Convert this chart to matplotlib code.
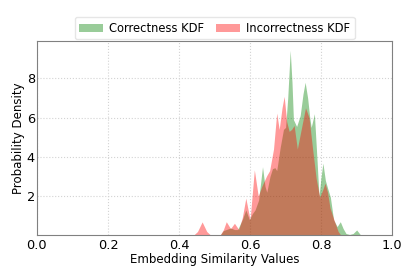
# KDF of embedding similarity for correct vs incorrect answers
import matplotlib
matplotlib.use('Agg')
import matplotlib.pyplot as plt

# density curves (x = similarity, y = density)
correct_x = [0.515, 0.525, 0.533, 0.545, 0.556, 0.565, 0.578, 0.588, 0.598, 0.606,
             0.614, 0.624, 0.635, 0.642, 0.647, 0.656, 0.663, 0.670, 0.675, 0.685,
             0.694, 0.700, 0.706, 0.713, 0.718, 0.722, 0.731, 0.741, 0.749, 0.755,
             0.762, 0.768, 0.772, 0.781, 0.788, 0.794, 0.800, 0.805, 0.812, 0.820,
             0.826, 0.835, 0.845, 0.854, 0.862, 0.870, 0.880, 0.890, 0.900, 0.910,
             0.920]
correct_y = [0.0, 0.25, 0.3, 0.38, 0.3, 0.3, 0.8, 1.3, 0.8, 1.1,
             1.3, 1.8, 3.5, 2.5, 2.2, 3.0, 3.4, 3.45, 3.3, 4.5,
             5.4, 5.5, 7.0, 9.43, 7.8, 5.9, 5.55, 6.1, 7.2, 7.8,
             7.0, 6.0, 5.5, 6.2, 4.0, 2.0, 3.0, 3.68, 2.8, 2.3,
             1.95, 0.8, 0.45, 0.7, 0.35, 0.1, 0.05, 0.1, 0.28, 0.05,
             0.0]

incorrect_x = [0.440, 0.452, 0.465, 0.478, 0.490, 0.515, 0.525, 0.533, 0.545, 0.556,
               0.568, 0.578, 0.588, 0.600, 0.612, 0.623, 0.633, 0.647, 0.655, 0.666,
               0.675, 0.682, 0.690, 0.696, 0.703, 0.710, 0.717, 0.724, 0.733, 0.745,
               0.756, 0.766, 0.776, 0.786, 0.796, 0.804, 0.811, 0.818, 0.825, 0.838,
               0.848, 0.856]
incorrect_y = [0.0, 0.2, 0.69, 0.2, 0.0, 0.0, 0.3, 0.7, 0.35, 0.62,
               0.3, 0.9, 1.9, 0.8, 3.34, 2.0, 2.5, 3.05, 3.3, 4.4,
               6.23, 5.4, 6.5, 7.08, 5.8, 5.3, 5.4, 5.6, 4.4, 5.5,
               6.5, 6.0, 4.4, 2.9, 1.95, 2.3, 2.66, 2.2, 1.4, 0.7,
               0.2, 0.0]

fig = plt.figure(figsize=(4.15, 2.77), dpi=100)
ax = fig.add_axes([0.089, 0.150, 0.856, 0.702])

ax.fill_between(correct_x, correct_y, color='green', alpha=0.4, linewidth=0,
                label='Correctness KDF')
ax.fill_between(incorrect_x, incorrect_y, color='red', alpha=0.4, linewidth=0,
                label='Incorrectness KDF')

ax.set_xlim(0, 1)
ax.set_ylim(0, 9.9)
ax.set_xticks([0, 0.2, 0.4, 0.6, 0.8, 1.0])
ax.set_yticks([2, 4, 6, 8])
ax.tick_params(labelsize=9.3, length=0)
ax.tick_params(axis='x', pad=2.5)
ax.tick_params(axis='y', pad=1.5)
ax.set_xlabel('Embedding Similarity Values', fontsize=8.5, labelpad=1)
ax.set_ylabel('Probability Density', fontsize=8.5, labelpad=1.5)
ax.grid(linestyle=':', color='lightgrey', linewidth=0.8)
ax.set_axisbelow(True)
for s in ax.spines.values():
    s.set_color('grey')

ax.legend(loc='lower center', bbox_to_anchor=(0.5, 1.0), ncol=2, fontsize=8.3,
          frameon=True, framealpha=1, edgecolor='#e6e6e6', borderaxespad=0.15,
          handlelength=2.1, handletextpad=0.5, columnspacing=1.0,
          borderpad=0.4)

plt.savefig('out.png', dpi=100)
